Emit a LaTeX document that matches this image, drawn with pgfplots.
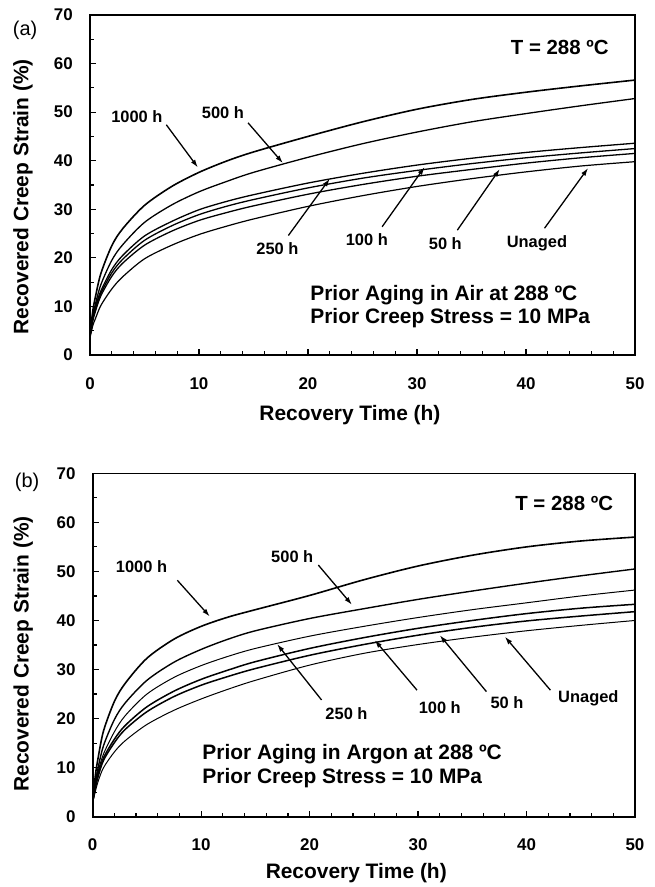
\documentclass[border=0pt]{standalone}
\usepackage{fontspec}
\setmainfont{Liberation Sans}
\usepackage{pgfplots}
\usepackage{pgfplotstable}
\pgfplotsset{compat=1.18}
\usetikzlibrary{arrows.meta}

\pgfplotstableread{
t     h1000 h500 h250 h100 h50  h0
0     4     4    4    4    4    3.5
0.25  9     8    7.5  7.2  7    6
0.5   12    10.5 10   9.5  9    7.5
1     16.8  14.5 13.2 12.7 12.2 10.2
2     22.5  19.5 17.6 16.9 16.2 13.6
3     26.0  22.7 20.5 19.7 18.9 16.1
5     30.8  27.3 24.5 23.6 22.6 19.8
7.5   34.7  30.9 27.5 26.6 25.5 22.6
10    37.6  33.6 29.9 28.9 27.7 24.8
12.5  39.9  35.7 31.6 30.6 29.3 26.5
15    41.8  37.6 33.0 32.0 30.7 28.0
20    45.0  40.7 35.4 34.4 33.1 30.6
25    48.0  43.5 37.4 36.4 35.1 32.8
30    50.6  45.9 39.1 38.0 36.8 34.7
35    52.6  48.0 40.5 39.4 38.2 36.3
40    54.1  49.7 41.7 40.6 39.5 37.7
45    55.4  51.3 42.7 41.6 40.6 38.9
50    56.6  52.8 43.6 42.5 41.5 39.8
}\airdata

\pgfplotstableread{
t     h1000 h500 h250 h100 h50  h0
0     3     3    3    3    3    3
0.25  8.5   7    6.5  6    6    5.2
0.5   12    10   9.2  8.6  8.2  7.2
1     17.5  14.5 12.8 12   11.5 10
2     23.5  19.8 17.3 15.8 15.1 13.2
3     27.2  23.2 20.6 18.6 17.8 15.5
5     32.3  27.8 25.0 22.4 21.4 18.8
7.5   36.2  31.5 28.4 25.6 24.5 21.7
10    38.8  34.1 30.8 28.0 26.8 24.0
12.5  40.7  36.2 32.7 29.9 28.6 26.0
15    42.2  37.9 34.3 31.6 30.2 27.8
20    45.1  40.4 36.8 34.3 32.9 30.9
25    48.3  42.4 38.8 36.5 35.1 33.3
30    51.1  44.3 40.6 38.4 37.0 35.1
35    53.3  46.0 42.2 40.0 38.6 36.6
40    55.0  47.6 43.6 41.4 39.9 37.9
45    56.2  49.1 45.0 42.5 40.9 39.0
50    57.0  50.5 46.2 43.3 41.8 40.0
}\argondata

\tikzset{
  lbl/.style={font=\fontsize{16.5}{16.5}\selectfont\bfseries},
  arr/.style={line width=1.3bp, -{Latex[length=8bp,width=5bp]}},
  axlab/.style={font=\fontsize{21}{21}\selectfont\bfseries, anchor=center},
}

\pgfplotsset{
  creep/.style={
    scale only axis,
    clip mode=individual,
    xmin=0, xmax=50, ymin=0, ymax=70,
    xtick={0,10,...,50}, ytick={0,10,...,70},
    minor x tick num=4, minor y tick num=1,
    tick pos=left, tick align=inside,
    major tick length=6bp, minor tick length=4bp,
    every tick/.style={black, line width=1.2bp},
    axis line style={line width=1.6bp},
    /pgf/number format/assume math mode=true,
    ticklabel style={font=\fontsize{17}{17}\selectfont\bfseries, inner sep=0pt},
    yticklabel style={xshift=-17bp},
    xticklabel style={yshift=-22bp},
    every axis plot/.append style={black, line width=1.2bp, smooth, no markers},
  },
}

\begin{document}
\begin{tikzpicture}
\useasboundingbox (0,0) rectangle (655bp,887bp);

% ---------------- (a) Air ----------------
\begin{axis}[creep,
  at={(90bp,532bp)}, anchor=south west,
  width=545bp, height=340bp,
  xlabel={Recovery Time (h)},
  ylabel={Recovered Creep Strain (\%)},
  every axis x label/.style={at={(axis description cs:0.477,-0.176)}, axlab},
  every axis y label/.style={at={(axis description cs:-0.123,0.465)}, axlab, rotate=90},
]
\addplot[line width=1.6bp] table[x=t, y=h1000] {\airdata};
\addplot[line width=1.3bp] table[x=t, y=h500] {\airdata};
\addplot[line width=1.3bp] table[x=t, y=h250] {\airdata};
\addplot[line width=1.3bp] table[x=t, y=h100] {\airdata};
\addplot[line width=1.3bp] table[x=t, y=h50] {\airdata};
\addplot[line width=1.2bp] table[x=t, y=h0] {\airdata};

\node[lbl] at (axis cs:4.3,49.0) {1000 h};
\draw[arr] (axis cs:7.0,47.4) -- (axis cs:9.9,38.6);
\node[lbl] at (axis cs:12.2,49.8) {500 h};
\draw[arr] (axis cs:14.5,47.8) -- (axis cs:17.7,39.5);
\node[lbl] at (axis cs:17.2,22.0) {250 h};
\draw[arr] (axis cs:18.2,24.6) -- (axis cs:22.0,36.3);
\node[lbl] at (axis cs:25.4,23.7) {100 h};
\draw[arr] (axis cs:26.8,26.4) -- (axis cs:30.7,38.7);
\node[lbl] at (axis cs:32.6,23.0) {50 h};
\draw[arr] (axis cs:33.7,25.7) -- (axis cs:37.6,38.3);
\node[lbl] at (axis cs:41.0,23.0) {Unaged};
\draw[arr] (axis cs:41.7,26.1) -- (axis cs:45.7,38.5);

\node[font=\fontsize{20.5}{20.5}\selectfont\bfseries, anchor=east] at (axis cs:47.9,63.4) {T = 288 ºC};
\node[font=\fontsize{21}{23.5}\selectfont\bfseries, anchor=west, align=left, inner sep=0pt] at (axis cs:20.2,10.0) {Prior Aging in Air at 288 ºC\\Prior Creep Stress = 10 MPa};
\node[font=\fontsize{20}{20}\selectfont, anchor=center] at (axis description cs:-0.119,0.956) {(a)};
\end{axis}

% ---------------- (b) Argon ----------------
\begin{axis}[creep,
  at={(92.7bp,70.3bp)}, anchor=south west,
  width=542.3bp, height=343.4bp,
  xlabel={Recovery Time (h)},
  ylabel={Recovered Creep Strain (\%)},
  every axis x label/.style={at={(axis description cs:0.486,-0.164)}, axlab},
  every axis y label/.style={at={(axis description cs:-0.128,0.474)}, axlab, rotate=90},
]
\addplot[line width=1.6bp] table[x=t, y=h1000] {\argondata};
\addplot[line width=1.4bp] table[x=t, y=h500] {\argondata};
\addplot[line width=1.0bp] table[x=t, y=h250] {\argondata};
\addplot[line width=1.5bp] table[x=t, y=h100] {\argondata};
\addplot[line width=1.5bp] table[x=t, y=h50] {\argondata};
\addplot[line width=1.0bp] table[x=t, y=h0] {\argondata};

\node[lbl] at (axis cs:4.5,51.0) {1000 h};
\draw[arr] (axis cs:7.8,48.2) -- (axis cs:10.8,40.8);
\node[lbl] at (axis cs:18.4,53.0) {500 h};
\draw[arr] (axis cs:20.8,51.3) -- (axis cs:23.9,43.2);
\node[lbl] at (axis cs:23.4,21.1) {250 h};
\draw[arr] (axis cs:21.1,23.8) -- (axis cs:17.0,35.2);
\node[lbl] at (axis cs:32.0,22.2) {100 h};
\draw[arr] (axis cs:29.9,25.8) -- (axis cs:26.0,36.0);
\node[lbl] at (axis cs:38.2,23.2) {50 h};
\draw[arr] (axis cs:36.3,25.5) -- (axis cs:32.0,37.0);
\node[lbl] at (axis cs:45.7,24.1) {Unaged};
\draw[arr] (axis cs:42.2,25.8) -- (axis cs:38.0,36.7);

\node[font=\fontsize{20.5}{20.5}\selectfont\bfseries, anchor=east] at (axis cs:48.3,63.9) {T = 288 ºC};
\node[font=\fontsize{21}{23.5}\selectfont\bfseries, anchor=west, align=left, inner sep=0pt] at (axis cs:10.1,10.3) {Prior Aging in Argon at 288 ºC\\Prior Creep Stress = 10 MPa};
\node[font=\fontsize{20}{20}\selectfont, anchor=center] at (axis description cs:-0.121,0.975) {(b)};
\end{axis}
\end{tikzpicture}
\end{document}
